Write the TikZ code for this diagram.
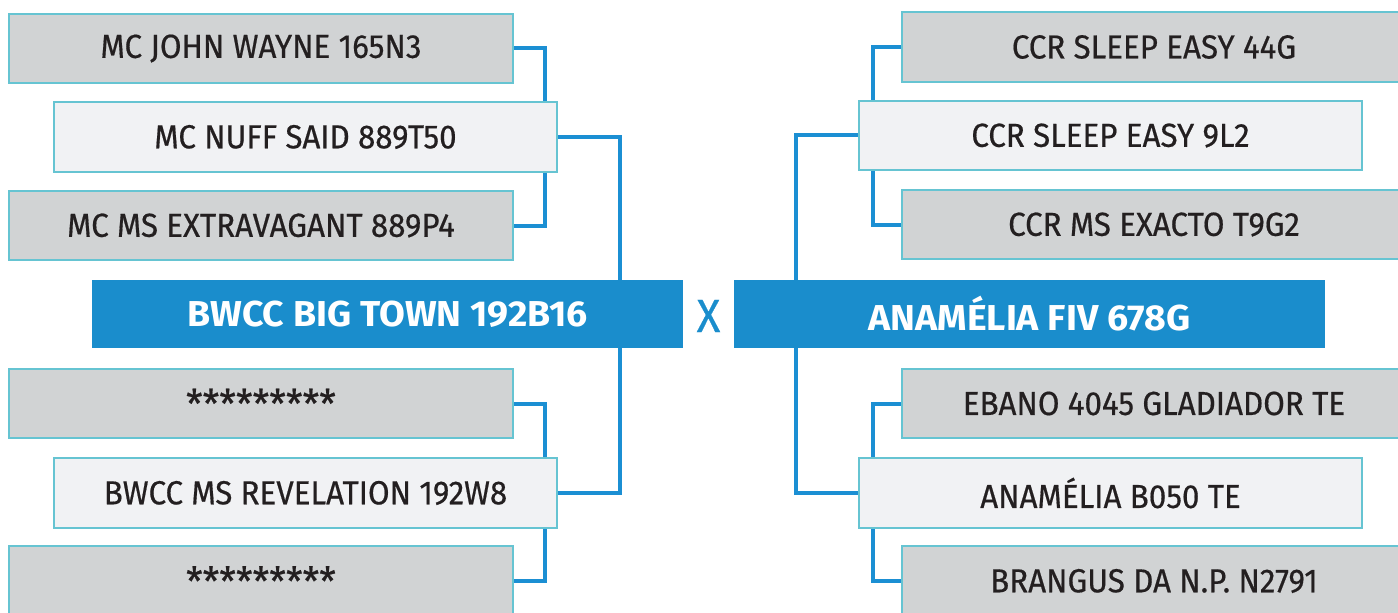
\documentclass[tikz,border=0pt]{standalone}
\usepackage{fontspec}
\setmainfont{Fira Sans}
\newfontfamily\pedname{Fira Sans}[FakeStretch=0.94, FakeBold=0.5]
\newfontfamily\pedhead{Fira Sans}[FakeStretch=1.04]
\usetikzlibrary{backgrounds}

\definecolor{pedblue}{HTML}{1A8DCC}
\definecolor{pedline}{HTML}{1B8FD3}
\definecolor{pedrim}{HTML}{66C4D2}
\definecolor{pedgrey}{HTML}{D1D3D4}
\definecolor{pedlight}{HTML}{F1F2F4}
\definecolor{pedtext}{HTML}{231F20}

\newcommand{\stars}{{\fontsize{30}{30}\selectfont *********}}

\tikzset{
  gpbox/.style={draw=pedrim, line width=1.5pt, fill=pedgrey, text=pedtext,
    minimum width=378pt, minimum height=52pt, inner sep=0pt,
    font=\pedname\fontsize{25}{25}\selectfont},
  pbox/.style={gpbox, fill=pedlight, minimum width=377pt},
  mainbox/.style={fill=pedblue, text=white, minimum width=443pt, minimum height=51pt,
    inner sep=0pt, font=\pedhead\bfseries\fontsize{27}{27}\selectfont},
  link/.style={draw=pedline, line width=3pt},
}

\begin{document}
\begin{tikzpicture}[x=0.75pt,y=0.75pt,yscale=-1]
\useasboundingbox (0,0) rectangle (1398,613);
\clip (0,0) rectangle (1398,613);

% trunk columns
\coordinate (lj) at (545,0);
\coordinate (lt) at (620,0);
\coordinate (rj) at (873,0);
\coordinate (rt) at (796,0);

% Sire side
\node [gpbox] (L1) at (261,48.5) {MC JOHN WAYNE 165N3};
\node [pbox] (L2) at (305.5,137) {MC NUFF SAID 889T50};
\node [gpbox] (L3) at (261,225.5) {MC MS EXTRAVAGANT 889P4};
\node [mainbox] (ML) at (387.5,314) {BWCC BIG TOWN 192B16};
\node [gpbox] (L4) at (261,403.5) {\stars};
\node [pbox] (L5) at (305.5,493) {BWCC MS REVELATION 192W8};
\node [gpbox] (L6) at (261,581) {\stars};

% Cross
\node [text=pedblue, font=\pedname\fontsize{35}{35}\selectfont] (cross) at (708.5,316) {X};

% Dam side
\node [gpbox] (R1) at (1154,47) {CCR SLEEP EASY 44G};
\node [pbox] (R2) at (1110.5,135.5) {CCR SLEEP EASY 9L2};
\node [gpbox] (R3) at (1154,224.5) {CCR MS EXACTO T9G2};
\node [mainbox] (MR) at (1029.5,314) {ANAMÉLIA FIV 678G};
\node [gpbox] (R4) at (1154,403.5) {EBANO 4045 GLADIADOR TE};
\node [pbox] (R5) at (1110.5,493) {ANAMÉLIA B050 TE};
\node [gpbox] (R6) at (1154,581) {BRANGUS DA N.P. N2791};

% Links
\begin{scope}[on background layer]
\draw [link] (L1.east) -| (L2.north -| lj);
\draw [link] (L3.east) -| (L2.south -| lj);
\draw [link] (L2.east) -| (ML.north -| lt);
\draw [link] (ML.south -| lt) |- (L5.east);
\draw [link] (L4.east) -| (L5.north -| lj);
\draw [link] (L6.east) -| (L5.south -| lj);
\draw [link] (R1.west) -| (R2.north -| rj);
\draw [link] (R3.west) -| (R2.south -| rj);
\draw [link] (R2.west) -| (MR.north -| rt);
\draw [link] (MR.south -| rt) |- (R5.west);
\draw [link] (R4.west) -| (R5.north -| rj);
\draw [link] (R6.west) -| (R5.south -| rj);
\end{scope}

\end{tikzpicture}
\end{document}
